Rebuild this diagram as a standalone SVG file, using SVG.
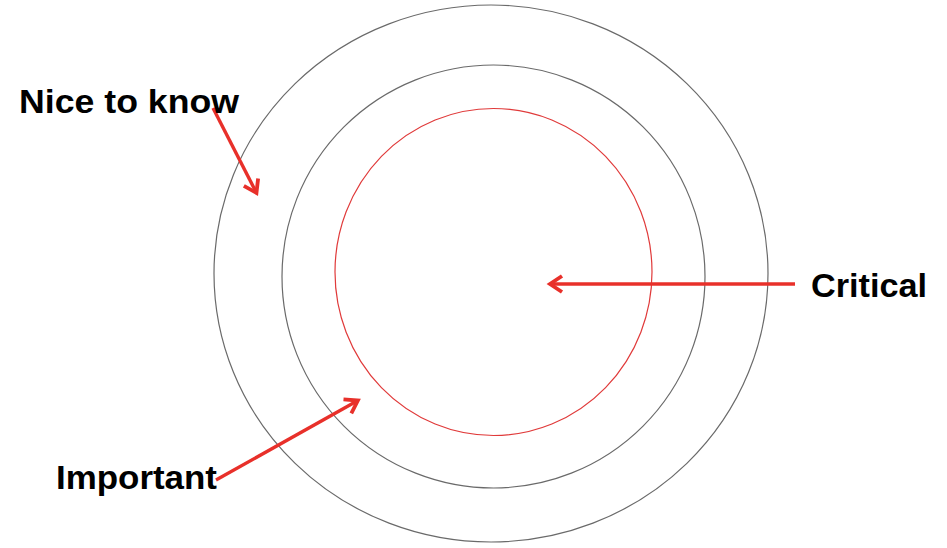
<svg xmlns="http://www.w3.org/2000/svg" width="947" height="548" viewBox="0 0 947 548">
<style>
.ring{fill:none;stroke:#6a6a6a;stroke-width:1.2}
.core{fill:none;stroke:#e03a3a;stroke-width:1.2}
.arrow{fill:none;stroke:#e8302a;stroke-width:3.4;marker-end:url(#head)}
.label{font-family:"Liberation Sans",Arial,sans-serif;font-weight:bold;font-size:34px;fill:#000}
</style>
<defs>
<marker id="head" markerUnits="userSpaceOnUse" viewBox="0 0 20 20" markerWidth="20" markerHeight="20" refX="15" refY="10" orient="auto">
<path d="M4,2 L16,10 L4,18" fill="none" stroke="#e8302a" stroke-width="3.8" stroke-linejoin="miter"/>
</marker>
</defs>
<rect width="947" height="548" fill="#fff"/>
<g id="outer-ring"><ellipse class="ring" cx="491" cy="273.5" rx="277" ry="268.5"/></g>
<g id="middle-ring"><ellipse class="ring" cx="493.5" cy="276.5" rx="211.5" ry="211.5"/></g>
<g id="core-ring"><ellipse class="core" cx="493.5" cy="272" rx="158.5" ry="163.5"/></g>
<g id="connectors">
<line class="arrow" x1="213" y1="108" x2="256" y2="192"/>
<line class="arrow" x1="216" y1="480" x2="357" y2="401"/>
<line class="arrow" x1="795" y1="284" x2="551" y2="284"/>
</g>
<g id="label-nice"><text class="label" x="19" y="113" textLength="220" lengthAdjust="spacingAndGlyphs">Nice to know</text></g>
<g id="label-critical"><text class="label" x="811" y="297" textLength="116" lengthAdjust="spacingAndGlyphs">Critical</text></g>
<g id="label-important"><text class="label" x="56" y="489" textLength="161" lengthAdjust="spacingAndGlyphs">Important</text></g>
</svg>
